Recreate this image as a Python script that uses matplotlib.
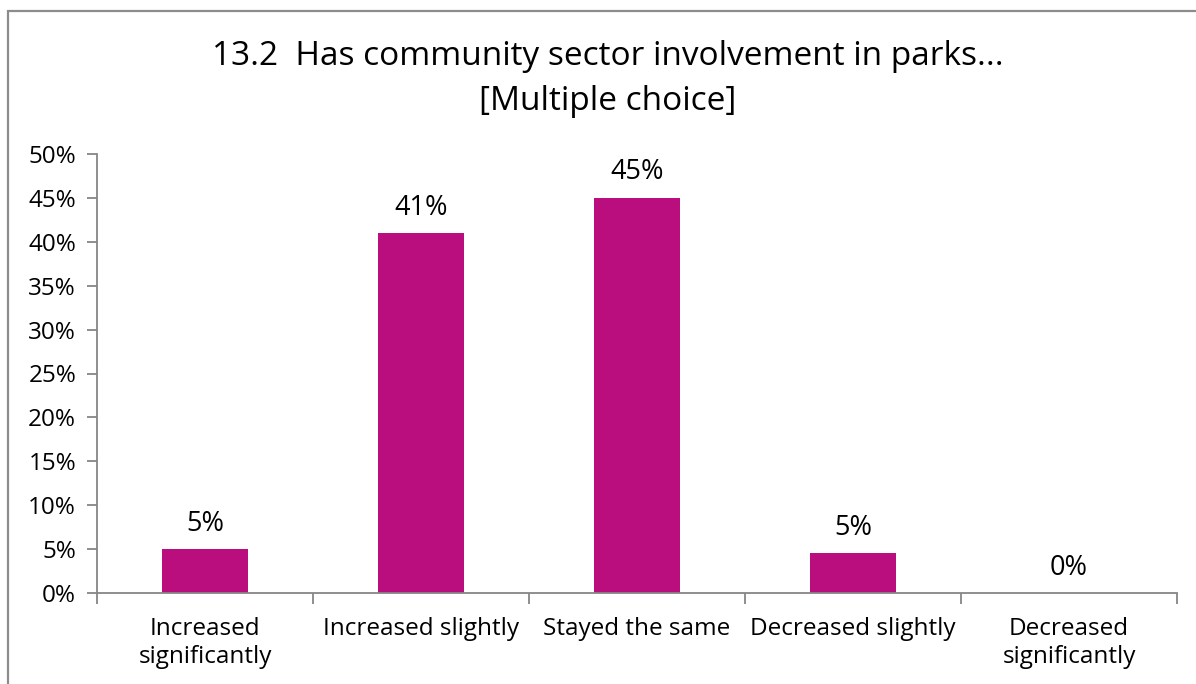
import matplotlib
matplotlib.use("Agg")
import matplotlib.pyplot as plt
from matplotlib.patches import Rectangle

categories = ["Increased\nsignificantly", "Increased slightly", "Stayed the same",
              "Decreased slightly", "Decreased\nsignificantly"]
values = [5.0, 41.0, 45.0, 4.55, 0.0]
y_ticks = [0, 5, 10, 15, 20, 25, 30, 35, 40, 45, 50]
title = "13.2  Has community sector involvement in parks...\n[Multiple choice]"

bar_color = "#BA0E7E"
axis_color = "#868686"
plt.rcParams["font.family"] = ["Open Sans", "DejaVu Sans"]

fig = plt.figure(figsize=(11.96, 6.84), dpi=100)
fig.patch.set_facecolor("white")

# outer chart frame
fig.patches.append(Rectangle((8 / 1196, -0.05), 1.1, 1 - 11 / 684 + 0.05,
                             transform=fig.transFigure, fill=False,
                             edgecolor="#8c8c8c", linewidth=1.6))

ax = fig.add_axes([97 / 1196, 1 - 593 / 684, (1177 - 97) / 1196, (593 - 154) / 684])
x = list(range(len(categories)))
ax.bar(x, values, width=0.4, color=bar_color, zorder=2)
for xi, v in zip(x, values):
    ax.text(xi, v + 2.1, f"{v:.0f}%", ha="center", va="baseline", fontsize=19.5)

ax.set_xlim(-0.5, len(categories) - 0.5)
ax.set_ylim(0, 50)
ax.set_yticks(y_ticks)
ax.set_yticklabels([f"{t}%" for t in y_ticks], fontsize=17.5)
ax.set_xticks(x)
ax.set_xticklabels(categories, fontsize=17.5, linespacing=1.25)
ax.tick_params(axis="x", length=0, pad=17)
ax.tick_params(axis="y", length=7, width=1.3, color=axis_color, pad=8)
# category boundary ticks
ax.set_xticks([i - 0.5 for i in range(len(categories) + 1)], minor=True)
ax.tick_params(axis="x", which="minor", length=8, width=1.3, color=axis_color)

for s in ["top", "right"]:
    ax.spines[s].set_visible(False)
for s in ["left", "bottom"]:
    ax.spines[s].set_color(axis_color)
    ax.spines[s].set_linewidth(1.3)

fig.text(608 / 1196, 1 - 79 / 684, title, ha="center", va="center",
         fontsize=24, linespacing=1.45)

fig.savefig("out.png", dpi=100)
